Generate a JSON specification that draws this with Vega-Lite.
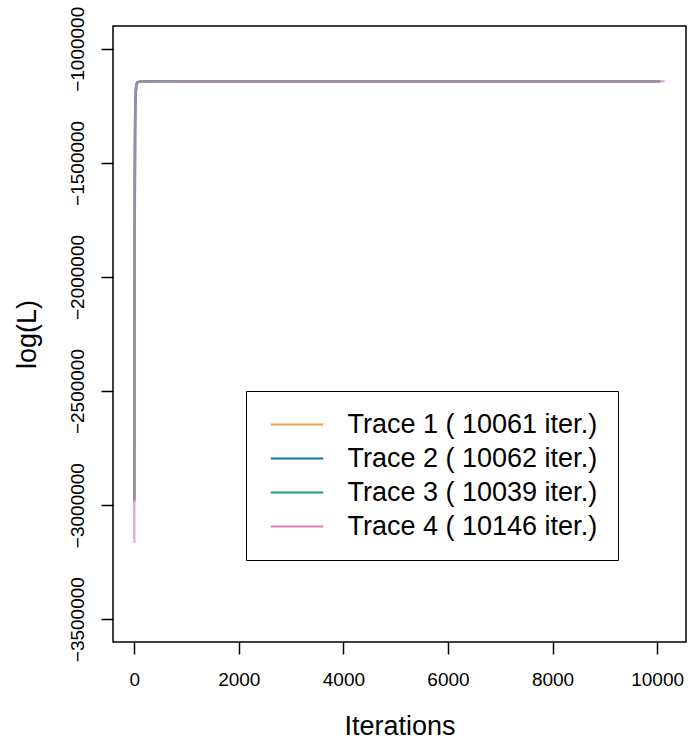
{
  "$schema": "https://vega.github.io/schema/vega-lite/v6.json",
  "autosize": {"type": "none"},
  "width": 573,
  "height": 616,
  "padding": {"left": 113, "top": 26, "right": 2, "bottom": 103},
  "background": "white",
  "config": {
    "view": {"stroke": "black", "strokeWidth": 1.5},
    "font": "Liberation Sans",
    "axis": {
      "grid": false,
      "domain": false,
      "tickColor": "black",
      "tickWidth": 1.5,
      "tickSize": 12,
      "labelColor": "black",
      "labelFont": "Liberation Sans",
      "labelFontSize": 19,
      "titleFont": "Liberation Sans",
      "titleFontSize": 27,
      "titleFontWeight": "normal",
      "titleColor": "black"
    }
  },
  "data": {
    "values": [
      {"trace": "Trace 1 ( 10061 iter.)", "iter": 1, "value": -2980000},
      {"trace": "Trace 1 ( 10061 iter.)", "iter": 5, "value": -2300000},
      {"trace": "Trace 1 ( 10061 iter.)", "iter": 10, "value": -1700000},
      {"trace": "Trace 1 ( 10061 iter.)", "iter": 15, "value": -1400000},
      {"trace": "Trace 1 ( 10061 iter.)", "iter": 20, "value": -1270000},
      {"trace": "Trace 1 ( 10061 iter.)", "iter": 30, "value": -1190000},
      {"trace": "Trace 1 ( 10061 iter.)", "iter": 40, "value": -1160000},
      {"trace": "Trace 1 ( 10061 iter.)", "iter": 60, "value": -1148000},
      {"trace": "Trace 1 ( 10061 iter.)", "iter": 100, "value": -1144000},
      {"trace": "Trace 1 ( 10061 iter.)", "iter": 300, "value": -1142800},
      {"trace": "Trace 1 ( 10061 iter.)", "iter": 1000, "value": -1142600},
      {"trace": "Trace 1 ( 10061 iter.)", "iter": 5000, "value": -1142500},
      {"trace": "Trace 1 ( 10061 iter.)", "iter": 10061, "value": -1142500},
      {"trace": "Trace 2 ( 10062 iter.)", "iter": 1, "value": -2975000},
      {"trace": "Trace 2 ( 10062 iter.)", "iter": 5, "value": -2250000},
      {"trace": "Trace 2 ( 10062 iter.)", "iter": 10, "value": -1650000},
      {"trace": "Trace 2 ( 10062 iter.)", "iter": 15, "value": -1380000},
      {"trace": "Trace 2 ( 10062 iter.)", "iter": 20, "value": -1260000},
      {"trace": "Trace 2 ( 10062 iter.)", "iter": 30, "value": -1185000},
      {"trace": "Trace 2 ( 10062 iter.)", "iter": 40, "value": -1158000},
      {"trace": "Trace 2 ( 10062 iter.)", "iter": 60, "value": -1147000},
      {"trace": "Trace 2 ( 10062 iter.)", "iter": 100, "value": -1143800},
      {"trace": "Trace 2 ( 10062 iter.)", "iter": 300, "value": -1142700},
      {"trace": "Trace 2 ( 10062 iter.)", "iter": 1000, "value": -1142600},
      {"trace": "Trace 2 ( 10062 iter.)", "iter": 5000, "value": -1142500},
      {"trace": "Trace 2 ( 10062 iter.)", "iter": 10062, "value": -1142500},
      {"trace": "Trace 3 ( 10039 iter.)", "iter": 1, "value": -2985000},
      {"trace": "Trace 3 ( 10039 iter.)", "iter": 5, "value": -2280000},
      {"trace": "Trace 3 ( 10039 iter.)", "iter": 10, "value": -1680000},
      {"trace": "Trace 3 ( 10039 iter.)", "iter": 15, "value": -1390000},
      {"trace": "Trace 3 ( 10039 iter.)", "iter": 20, "value": -1265000},
      {"trace": "Trace 3 ( 10039 iter.)", "iter": 30, "value": -1188000},
      {"trace": "Trace 3 ( 10039 iter.)", "iter": 40, "value": -1159000},
      {"trace": "Trace 3 ( 10039 iter.)", "iter": 60, "value": -1147500},
      {"trace": "Trace 3 ( 10039 iter.)", "iter": 100, "value": -1143900},
      {"trace": "Trace 3 ( 10039 iter.)", "iter": 300, "value": -1142700},
      {"trace": "Trace 3 ( 10039 iter.)", "iter": 1000, "value": -1142600},
      {"trace": "Trace 3 ( 10039 iter.)", "iter": 5000, "value": -1142500},
      {"trace": "Trace 3 ( 10039 iter.)", "iter": 10039, "value": -1142500},
      {"trace": "Trace 4 ( 10146 iter.)", "iter": 1, "value": -3165000},
      {"trace": "Trace 4 ( 10146 iter.)", "iter": 5, "value": -2400000},
      {"trace": "Trace 4 ( 10146 iter.)", "iter": 10, "value": -1750000},
      {"trace": "Trace 4 ( 10146 iter.)", "iter": 15, "value": -1420000},
      {"trace": "Trace 4 ( 10146 iter.)", "iter": 20, "value": -1280000},
      {"trace": "Trace 4 ( 10146 iter.)", "iter": 30, "value": -1195000},
      {"trace": "Trace 4 ( 10146 iter.)", "iter": 40, "value": -1162000},
      {"trace": "Trace 4 ( 10146 iter.)", "iter": 60, "value": -1148500},
      {"trace": "Trace 4 ( 10146 iter.)", "iter": 100, "value": -1144100},
      {"trace": "Trace 4 ( 10146 iter.)", "iter": 300, "value": -1142800},
      {"trace": "Trace 4 ( 10146 iter.)", "iter": 1000, "value": -1142600},
      {"trace": "Trace 4 ( 10146 iter.)", "iter": 5000, "value": -1142500},
      {"trace": "Trace 4 ( 10146 iter.)", "iter": 10146, "value": -1142500}
    ]
  },
  "mark": {"type": "line", "strokeWidth": 2.5, "opacity": 0.65, "clip": true},
  "encoding": {
    "x": {
      "field": "iter",
      "type": "quantitative",
      "scale": {"domain": [-406, 10552], "nice": false, "zero": false},
      "axis": {
        "title": "Iterations",
        "values": [0, 2000, 4000, 6000, 8000, 10000],
        "format": "d",
        "labelBaseline": "alphabetic",
        "labelPadding": 31,
        "labelFlush": false,
        "titleBaseline": "alphabetic",
        "titleY": 92,
        "titleX": 286.5,
        "titleAlign": "center"
      }
    },
    "y": {
      "field": "value",
      "type": "quantitative",
      "scale": {"domain": [-3600000, -900000], "nice": false, "zero": false},
      "axis": {
        "title": "log(L)",
        "values": [-3500000, -3000000, -2500000, -2000000, -1500000, -1000000],
        "format": "d",
        "labelAngle": -90,
        "labelAlign": "center",
        "labelBaseline": "alphabetic",
        "labelPadding": 18,
        "labelFlush": false,
        "labelOverlap": false,
        "titleAngle": -90,
        "titleAlign": "center",
        "titleBaseline": "alphabetic",
        "titleX": -78,
        "titleY": 308
      }
    },
    "color": {
      "field": "trace",
      "type": "nominal",
      "scale": {
        "domain": ["Trace 1 ( 10061 iter.)", "Trace 2 ( 10062 iter.)", "Trace 3 ( 10039 iter.)", "Trace 4 ( 10146 iter.)"],
        "range": ["#F2A04A", "#0A72B0", "#14A07A", "#DC82B8"]
      },
      "legend": {
        "title": null,
        "orient": "none",
        "legendX": 133,
        "legendY": 365,
        "padding": 20,
        "strokeColor": "black",
        "fillColor": "white",
        "cornerRadius": 0,
        "symbolType": "M-2.1,0H2.1",
        "symbolSize": 625,
        "symbolStrokeWidth": 2,
        "symbolOpacity": 1,
        "symbolOffset": 17.5,
        "labelOffset": 37,
        "labelFont": "Liberation Sans",
        "labelFontSize": 27,
        "labelColor": "black",
        "labelLimit": 400,
        "rowPadding": 6
      }
    }
  }
}
